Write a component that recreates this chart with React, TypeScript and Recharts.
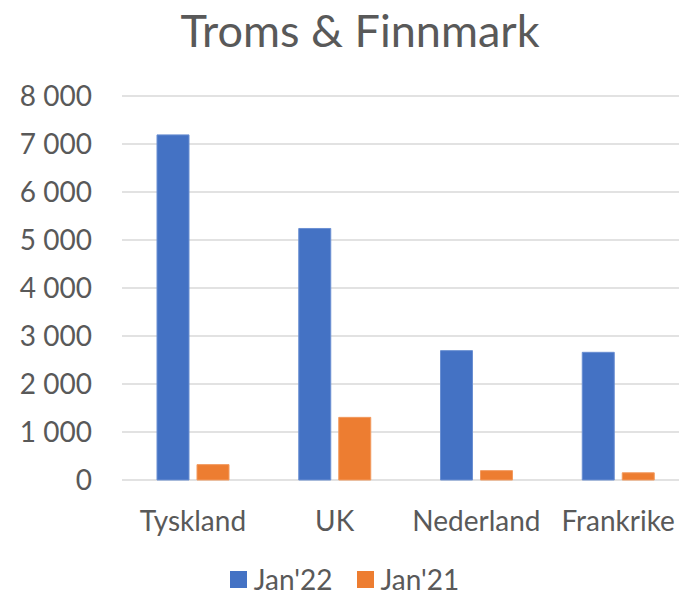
import React from "react";
import { BarChart, Bar, XAxis, YAxis, CartesianGrid, Legend } from "recharts";

const categories = ["Tyskland", "UK", "Nederland", "Frankrike"];
const jan22 = [7190, 5240, 2695, 2660];
const jan21 = [320, 1305, 195, 150];
const yTicks = [0, 1000, 2000, 3000, 4000, 5000, 6000, 7000, 8000];
const seriesOrder = ["jan22", "jan21"];

const data = categories.map((c, i) => ({ name: c, jan22: jan22[i], jan21: jan21[i] }));

const FONT = "Lato, 'Open Sans', sans-serif";
const TEXT = "#595959";

const fmt = (v: number) => String(v).replace(/\B(?=(\d{3})+(?!\d))/g, " ");

const renderLegend = (props: any) => {
  const payload = [...(props.payload || [])].sort(
    (a: any, b: any) => seriesOrder.indexOf(a.dataKey) - seriesOrder.indexOf(b.dataKey)
  );
  return (
    <div style={{ display: "flex", justifyContent: "center", alignItems: "center", height: 36, fontFamily: FONT, fontSize: 28, color: TEXT }}>
      {payload.map((p: any, i: number) => (
        <div key={i} style={{ display: "flex", alignItems: "center", marginLeft: i === 0 ? 0 : 24 }}>
          <span style={{ display: "inline-block", width: 17, height: 17, background: p.color, marginRight: 7 }} />
          <span style={{ lineHeight: "36px" }}>{p.value}</span>
        </div>
      ))}
    </div>
  );
};

export default function App() {
  return (
    <div style={{ position: "absolute", top: 0, left: 0, width: 679, height: 597, overflow: "hidden", background: "#fff" }}>
      <svg width={679} height={60} style={{ position: "absolute", top: 0, left: 0 }}>
        <text x={360} y={47} textAnchor="middle" fontFamily={FONT} fontSize={45} fill={TEXT}>
          Troms &amp; Finnmark
        </text>
      </svg>
      <BarChart
        width={700}
        height={597}
        data={data}
        margin={{ top: 96, right: 11, bottom: 0, left: 0 }}
        barSize={32}
        barGap={8}
      >
        <CartesianGrid vertical={false} stroke="#D9D9D9" strokeWidth={1.5} />
        <XAxis
          dataKey="name"
          axisLine={false}
          tickLine={false}
          height={81}
          tickMargin={25}
          tick={{ fill: TEXT, fontSize: 28, fontFamily: FONT }}
          interval={0}
        />
        <YAxis
          width={122}
          domain={[0, 8000]}
          ticks={yTicks}
          axisLine={false}
          tickLine={false}
          tickMargin={24}
          tickFormatter={fmt}
          tick={{ fill: TEXT, fontSize: 28, fontFamily: FONT }}
        />
        <Legend content={renderLegend} />
        <Bar dataKey="jan22" name="Jan'22" fill="#4472C4" stroke="#6A8FD2" strokeWidth={1} isAnimationActive={false} />
        <Bar dataKey="jan21" name="Jan'21" fill="#ED7D31" stroke="#F29A5E" strokeWidth={1} isAnimationActive={false} />
      </BarChart>
    </div>
  );
}
